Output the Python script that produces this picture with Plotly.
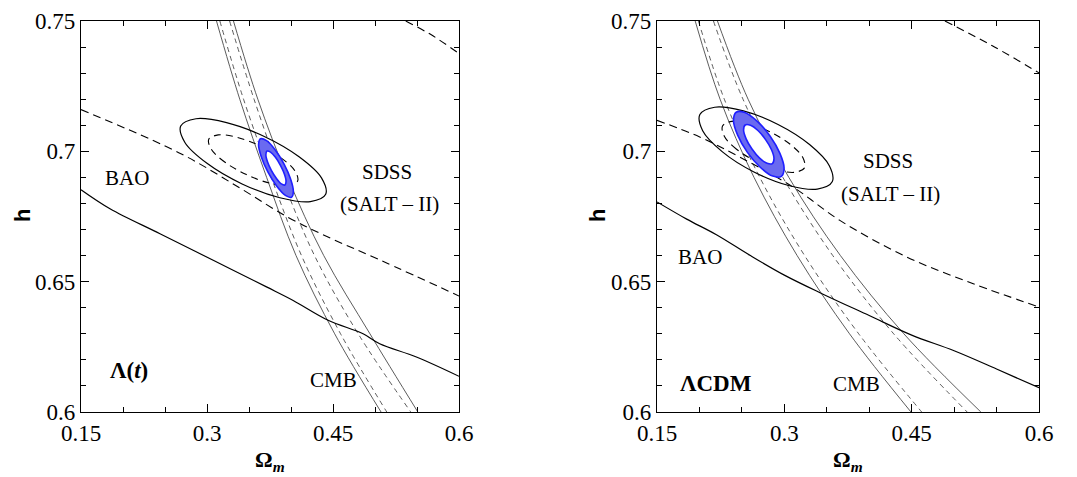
import plotly.graph_objects as go

# ---------------- Lambda(t) panel (left) ----------------
cmb_h = [0.75, 0.72, 0.69, 0.66, 0.63, 0.60]
lt_cmb_outer_a = [0.3113, 0.339, 0.371, 0.406, 0.452, 0.5072]
lt_cmb_inner_a = [0.3153, 0.3435, 0.3765, 0.4125, 0.459, 0.514]
lt_cmb_inner_b = [0.3269, 0.356, 0.389, 0.428, 0.480, 0.5426]
lt_cmb_outer_b = [0.3315, 0.3605, 0.396, 0.439, 0.494, 0.551]

lt_bao_solid_om = [0.15, 0.1845, 0.244, 0.3074, 0.3708, 0.4026, 0.4442, 0.4858, 0.5056, 0.5493, 0.60]
lt_bao_solid_h = [0.6853, 0.678, 0.6684, 0.6582, 0.648, 0.6428, 0.6352, 0.630, 0.6262, 0.6211, 0.6137]
lt_bao_dash_om = [0.15, 0.2689, 0.3403, 0.3958, 0.4394, 0.5068, 0.60]
lt_bao_dash_h = [0.716, 0.6991, 0.6857, 0.6748, 0.6678, 0.6582, 0.6445]
lt_bao_dash2_om = [0.5366, 0.568, 0.60]
lt_bao_dash2_h = [0.75, 0.7445, 0.7375]

lt_sdss2_om = [0.4413, 0.4231, 0.3867, 0.3418, 0.3004, 0.2737, 0.2687, 0.2869, 0.3233, 0.3682, 0.4096, 0.4363]
lt_sdss2_h = [0.6835, 0.6807, 0.6822, 0.6875, 0.6953, 0.7034, 0.7097, 0.7125, 0.7110, 0.7057, 0.6979, 0.6898]
lt_sdss1_om = [0.4079, 0.3968, 0.3744, 0.3469, 0.3215, 0.3051, 0.3021, 0.3133, 0.3356, 0.3631, 0.3885, 0.4049]
lt_sdss1_h = [0.6886, 0.6869, 0.6878, 0.6911, 0.6958, 0.7008, 0.7046, 0.7063, 0.7054, 0.7021, 0.6974, 0.6924]
lt_joint2_om = [0.4006, 0.3933, 0.3831, 0.3726, 0.3647, 0.3614, 0.3637, 0.3709, 0.3811, 0.3916, 0.3995, 0.4028]
lt_joint2_h = [0.6824, 0.6831, 0.6866, 0.6920, 0.6978, 0.7025, 0.7048, 0.7041, 0.7006, 0.6952, 0.6894, 0.6847]
lt_joint1_om = [0.3928, 0.3886, 0.3827, 0.3766, 0.3720, 0.3701, 0.3714, 0.3756, 0.3815, 0.3876, 0.3922, 0.3941]
lt_joint1_h = [0.6871, 0.6875, 0.6896, 0.6927, 0.6960, 0.6987, 0.7001, 0.6997, 0.6977, 0.6945, 0.6912, 0.6885]

# ---------------- LCDM panel (right) ----------------
lc_cmb_outer_a = [0.195, 0.2243, 0.2643, 0.3151, 0.3768, 0.4492]
lc_cmb_inner_a = [0.1988, 0.2293, 0.2711, 0.3239, 0.3876, 0.4618]
lc_cmb_inner_b = [0.2165, 0.2513, 0.2983, 0.3571, 0.4288, 0.5154]
lc_cmb_outer_b = [0.2212, 0.2573, 0.3053, 0.3661, 0.4408, 0.5315]

lc_bao_solid_om = [0.15, 0.185, 0.22, 0.26, 0.30, 0.345, 0.40, 0.45, 0.50, 0.55, 0.60]
lc_bao_solid_h = [0.6806, 0.674, 0.668, 0.660, 0.6525, 0.6453, 0.637, 0.6295, 0.6235, 0.6165, 0.6093]
lc_bao_dash_om = [0.15, 0.2003, 0.2475, 0.3103, 0.3654, 0.4440, 0.5226, 0.60]
lc_bao_dash_h = [0.7119, 0.7055, 0.6978, 0.6863, 0.6735, 0.6595, 0.6492, 0.6403]
lc_bao_dash2_om = [0.4892, 0.545, 0.60]
lc_bao_dash2_h = [0.75, 0.7405, 0.7301]

lc_sdss2_om = [0.3564, 0.3388, 0.3051, 0.2642, 0.2271, 0.2038, 0.2005, 0.2180, 0.2517, 0.2926, 0.3297, 0.3530]
lc_sdss2_h = [0.6883, 0.6855, 0.6869, 0.6921, 0.6998, 0.7079, 0.7141, 0.7169, 0.7155, 0.7103, 0.7026, 0.6945]
lc_sdss1_om = [0.3238, 0.3130, 0.2921, 0.2667, 0.2437, 0.2293, 0.2272, 0.2381, 0.2590, 0.2843, 0.3073, 0.3218]
lc_sdss1_h = [0.6937, 0.6920, 0.6928, 0.6961, 0.7008, 0.7058, 0.7097, 0.7115, 0.7106, 0.7073, 0.7026, 0.6976]
lc_joint2_om = [0.2965, 0.2863, 0.2716, 0.2565, 0.2450, 0.2401, 0.2433, 0.2535, 0.2682, 0.2833, 0.2948, 0.2997]
lc_joint2_h = [0.6904, 0.6905, 0.6939, 0.6996, 0.7062, 0.7118, 0.7150, 0.7149, 0.7115, 0.7058, 0.6992, 0.6936]
lc_joint1_om = [0.2859, 0.2797, 0.2709, 0.2619, 0.2550, 0.2520, 0.2539, 0.2601, 0.2689, 0.2779, 0.2849, 0.2878]
lc_joint1_h = [0.6953, 0.6954, 0.6974, 0.7009, 0.7048, 0.7082, 0.7101, 0.7100, 0.7080, 0.7045, 0.7006, 0.6972]

x_ticks = [0.15, 0.3, 0.45, 0.6]
x_tick_text = ["0.15", "0.3", "0.45", "0.6"]
y_ticks = [0.6, 0.65, 0.7, 0.75]
y_tick_text = ["0.6", "0.65", "0.7", "0.75"]

SERIF = "Liberation Serif, Times New Roman, serif"
BLUE_LINE = "#1f1fff"
BLUE_FILL = "#6a6af0"

fig = go.Figure()


def curve(x, y, xa, ya, color="black", width=1.2, dash="solid", smooth=True):
    fig.add_trace(go.Scatter(
        x=x, y=y, xaxis=xa, yaxis=ya, mode="lines",
        line=dict(color=color, width=width, dash=dash,
                  shape="spline" if smooth else "linear", smoothing=1.0),
        hoverinfo="skip", showlegend=False))


def loop(x, y, xa, ya, color="black", width=1.2, dash="solid", fill=None):
    # start the closed path on a flat side of the contour
    xs = list(x[3:]) + list(x[:3]) + [x[3]]
    ys = list(y[3:]) + list(y[:3]) + [y[3]]
    fig.add_trace(go.Scatter(
        x=xs, y=ys, xaxis=xa, yaxis=ya, mode="lines",
        line=dict(color=color, width=width, dash=dash, shape="spline", smoothing=1.0),
        fill="toself" if fill else None, fillcolor=fill,
        hoverinfo="skip", showlegend=False))


panels = [
    ("x", "y", lt_cmb_outer_a, lt_cmb_inner_a, lt_cmb_inner_b, lt_cmb_outer_b,
     lt_bao_solid_om, lt_bao_solid_h, lt_bao_dash_om, lt_bao_dash_h,
     lt_bao_dash2_om, lt_bao_dash2_h, lt_sdss2_om, lt_sdss2_h, lt_sdss1_om, lt_sdss1_h,
     lt_joint2_om, lt_joint2_h, lt_joint1_om, lt_joint1_h),
    ("x2", "y2", lc_cmb_outer_a, lc_cmb_inner_a, lc_cmb_inner_b, lc_cmb_outer_b,
     lc_bao_solid_om, lc_bao_solid_h, lc_bao_dash_om, lc_bao_dash_h,
     lc_bao_dash2_om, lc_bao_dash2_h, lc_sdss2_om, lc_sdss2_h, lc_sdss1_om, lc_sdss1_h,
     lc_joint2_om, lc_joint2_h, lc_joint1_om, lc_joint1_h),
]

for (xa, ya, oa, ia, ib, ob, bs_x, bs_y, bd_x, bd_y, bd2_x, bd2_y,
     s2x, s2y, s1x, s1y, j2x, j2y, j1x, j1y) in panels:
    # CMB band
    curve(oa, cmb_h, xa, ya, color="#4a4a4a", width=0.9)
    curve(ob, cmb_h, xa, ya, color="#4a4a4a", width=0.9)
    curve(ia, cmb_h, xa, ya, color="#4a4a4a", width=0.9, dash="5px,4px")
    curve(ib, cmb_h, xa, ya, color="#4a4a4a", width=0.9, dash="5px,4px")
    # BAO contours
    curve(bs_x, bs_y, xa, ya, width=1.2)
    curve(bd_x, bd_y, xa, ya, width=1.1, dash="8px,5px")
    curve(bd2_x, bd2_y, xa, ya, width=1.1, dash="8px,5px")
    # SDSS (SALT-II) contours
    loop(s2x, s2y, xa, ya, width=1.2)
    loop(s1x, s1y, xa, ya, width=1.1, dash="7px,5px")
    # joint confidence region
    loop(j2x, j2y, xa, ya, color=BLUE_LINE, width=1.6, fill=BLUE_FILL)
    loop(j1x, j1y, xa, ya, color=BLUE_LINE, width=1.6, fill="white")

Y_DOM = [65 / 477, 456 / 477]
axis_common = dict(
    showline=True, linecolor="black", linewidth=1.3, mirror="ticks",
    ticks="inside", ticklen=8, tickwidth=1.1, tickcolor="black",
    showgrid=False, zeroline=False, automargin=False,
    tickfont=dict(family=SERIF, size=23, color="black"),
)
xaxis_common = dict(axis_common, range=[0.15, 0.6], tickvals=x_ticks, ticktext=x_tick_text,
                    minor=dict(tickmode="linear", tick0=0.15, dtick=0.05, ticks="inside",
                               ticklen=5, tickwidth=1.0, tickcolor="black"))
yaxis_common = dict(axis_common, range=[0.6, 0.75], tickvals=y_ticks, ticktext=y_tick_text,
                    minor=dict(tickmode="linear", tick0=0.6, dtick=0.01, ticks="inside",
                               ticklen=5, tickwidth=1.0, tickcolor="black"))

fig.update_layout(
    width=1077, height=477,
    margin=dict(l=0, r=0, t=0, b=0, autoexpand=False),
    paper_bgcolor="white", plot_bgcolor="white",
    showlegend=False, hovermode=False,
    xaxis=dict(xaxis_common, domain=[81 / 1077, 459 / 1077], anchor="y"),
    yaxis=dict(yaxis_common, domain=Y_DOM, anchor="x"),
    xaxis2=dict(xaxis_common, domain=[657 / 1077, 1039 / 1077], anchor="y2"),
    yaxis2=dict(yaxis_common, domain=Y_DOM, anchor="x2"),
)

label_font = dict(family=SERIF, size=21, color="black")
texts = [
    ("x", "y", 0.2044, 0.6897, "BAO"),
    ("x", "y", 0.5143, 0.6921, "SDSS"),
    ("x", "y", 0.5167, 0.6798, "(SALT – II)"),
    ("x", "y", 0.4500, 0.6123, "CMB"),
    ("x2", "y2", 0.4224, 0.6962, "SDSS"),
    ("x2", "y2", 0.4255, 0.6838, "(SALT – II)"),
    ("x2", "y2", 0.2012, 0.6595, "BAO"),
    ("x2", "y2", 0.3851, 0.6109, "CMB"),
]
for xr, yr, xv, yv, t in texts:
    fig.add_annotation(xref=xr, yref=yr, x=xv, y=yv, text=t, showarrow=False,
                       font=label_font, xanchor="center", yanchor="middle")

model_font = dict(family=SERIF, size=23, color="black")
fig.add_annotation(xref="x", yref="y", x=0.2071, y=0.6161, text="<b>Λ(<i>t</i>)</b>",
                   showarrow=False, font=model_font, xanchor="center", yanchor="middle")
fig.add_annotation(xref="x2", yref="y2", x=0.2200, y=0.6111, text="<b>ΛCDM</b>",
                   showarrow=False, font=model_font, xanchor="center", yanchor="middle")

# axis titles
for px in (22, 597):
    fig.add_annotation(xref="paper", yref="paper", x=px / 1077, y=(477 - 216) / 477,
                       text="<b>h</b>", textangle=-90, showarrow=False,
                       font=dict(family="Liberation Sans, Arial, sans-serif", size=22, color="black"),
                       xanchor="center", yanchor="middle")
for px in (270, 848):
    fig.add_annotation(xref="paper", yref="paper", x=px / 1077, y=1 / 477,
                       text="<b>Ω<sub><i>m</i></sub></b>", showarrow=False,
                       font=dict(family=SERIF, size=22, color="black"),
                       xanchor="center", yanchor="bottom", borderpad=0)

fig.write_html("out.html")
